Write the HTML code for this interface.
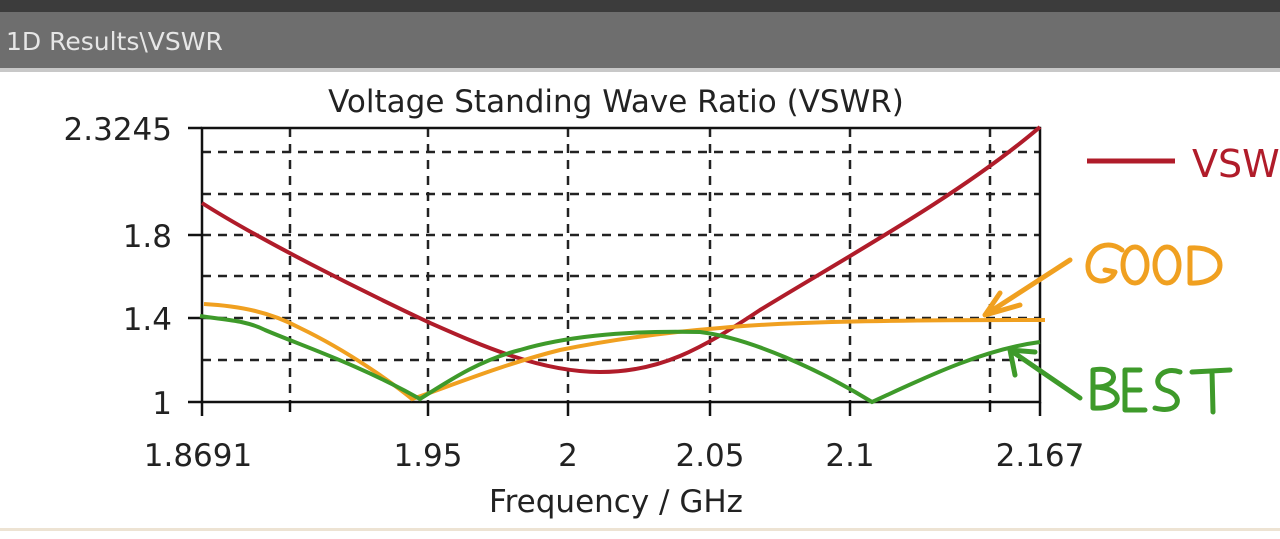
<!DOCTYPE html>
<html><head><style>
html,body{margin:0;padding:0;width:1280px;height:539px;overflow:hidden;background:#fff}
</style></head><body>
<svg width="1280" height="539" viewBox="0 0 1280 539" xmlns="http://www.w3.org/2000/svg" font-family="'DejaVu Sans','Liberation Sans',sans-serif">
<rect x="0" y="0" width="1280" height="539" fill="#fff"/>
<rect x="0" y="0" width="1280" height="12" fill="#3c3c3c"/>
<rect x="0" y="12" width="1280" height="56" fill="#6e6e6e"/>
<rect x="0" y="68" width="1280" height="4" fill="#c8c8c8"/>
<text x="6" y="50" font-size="25" fill="#e6e6e6">1D Results\VSWR</text>
<rect x="0" y="528" width="1280" height="3" fill="#ede3d3"/>
<text x="616" y="112" font-size="31" fill="#222" text-anchor="middle">Voltage Standing Wave Ratio (VSWR)</text>
<g stroke="#222" stroke-width="2.5" stroke-dasharray="9,7">
<line x1="290" y1="128" x2="290" y2="402"/><line x1="428" y1="128" x2="428" y2="402"/>
<line x1="568" y1="128" x2="568" y2="402"/><line x1="710" y1="128" x2="710" y2="402"/>
<line x1="850" y1="128" x2="850" y2="402"/><line x1="990" y1="128" x2="990" y2="402"/>
<line x1="202" y1="152" x2="1040" y2="152"/><line x1="202" y1="194" x2="1040" y2="194"/>
<line x1="202" y1="235" x2="1040" y2="235"/><line x1="202" y1="276" x2="1040" y2="276"/>
<line x1="202" y1="318" x2="1040" y2="318"/><line x1="202" y1="360" x2="1040" y2="360"/>
</g>
<rect x="202" y="128" width="838" height="274" fill="none" stroke="#111" stroke-width="2.5"/>
<g stroke="#111" stroke-width="2.5">
<line x1="188" y1="128" x2="202" y2="128"/><line x1="188" y1="235" x2="202" y2="235"/>
<line x1="188" y1="318" x2="202" y2="318"/><line x1="188" y1="402" x2="202" y2="402"/>
<line x1="202" y1="402" x2="202" y2="416"/><line x1="290" y1="402" x2="290" y2="412"/>
<line x1="428" y1="402" x2="428" y2="416"/><line x1="568" y1="402" x2="568" y2="416"/>
<line x1="710" y1="402" x2="710" y2="416"/><line x1="850" y1="402" x2="850" y2="416"/>
<line x1="990" y1="402" x2="990" y2="412"/><line x1="1040" y1="402" x2="1040" y2="416"/>
</g>
<g font-size="31" fill="#222" text-anchor="end">
<text x="172" y="140">2.3245</text><text x="172" y="247">1.8</text>
<text x="172" y="330">1.4</text><text x="172" y="414">1</text>
</g>
<g font-size="31" fill="#222" text-anchor="middle">
<text x="198" y="466">1.8691</text><text x="428" y="466">1.95</text>
<text x="568" y="466">2</text><text x="710" y="466">2.05</text>
<text x="850" y="466">2.1</text><text x="1040" y="466">2.167</text>
<text x="616" y="512">Frequency / GHz</text>
</g>
<path d="M202,203 C260,240 360,290 428,322 C480,345 540,372 600,372 C660,372 700,350 760,310 C850,255 960,195 1040,127" fill="none" stroke="#b01c2a" stroke-width="4"/>
<line x1="1087" y1="161" x2="1175" y2="161" stroke="#b01c2a" stroke-width="5"/>
<text x="1192" y="177" font-size="38" fill="#b01c2a">VSWR</text>
<path d="M204,304 C240,306 270,312 300,328 C350,352 395,385 412,399 C440,390 500,365 560,350 C620,338 670,332 720,328 C780,322 880,320 1045,320" fill="none" stroke="#f0a020" stroke-width="4"/>
<path d="M200,316 C225,320 245,320 265,330 C300,345 360,365 420,399 C450,380 480,360 520,350 C560,338 620,330 700,332 C750,338 820,370 872,402 C920,380 980,350 1040,342" fill="none" stroke="#3e9a2a" stroke-width="4"/>
<g fill="none" stroke="#f0a020" stroke-width="5" stroke-linecap="round" stroke-linejoin="round">
<path d="M1070,260 L985,315 M1000,293 L985,315 L1020,305"/>
<path d="M1122,250 C1110,240 1090,245 1088,265 C1087,285 1110,285 1115,272 L1105,270"/>
<ellipse cx="1135" cy="265" rx="12" ry="18"/><ellipse cx="1167" cy="265" rx="12" ry="18"/>
<path d="M1190,248 L1190,283 C1230,285 1230,245 1190,248"/>
</g>
<g fill="none" stroke="#3e9a2a" stroke-width="5" stroke-linecap="round" stroke-linejoin="round">
<path d="M1080,398 L1010,350 M1010,350 L1015,375 M1010,350 L1035,352"/>
<path d="M1093,370 L1093,408 M1093,370 C1120,365 1120,388 1095,387 C1125,388 1125,410 1093,408"/>
<path d="M1140,370 L1125,370 L1125,410 L1145,410 M1125,390 L1140,390"/>
<path d="M1180,372 C1160,365 1150,385 1165,390 C1185,395 1180,415 1155,408"/>
<path d="M1192,372 L1230,370 M1212,371 L1213,412"/>
</g>
</svg>
</body></html>
